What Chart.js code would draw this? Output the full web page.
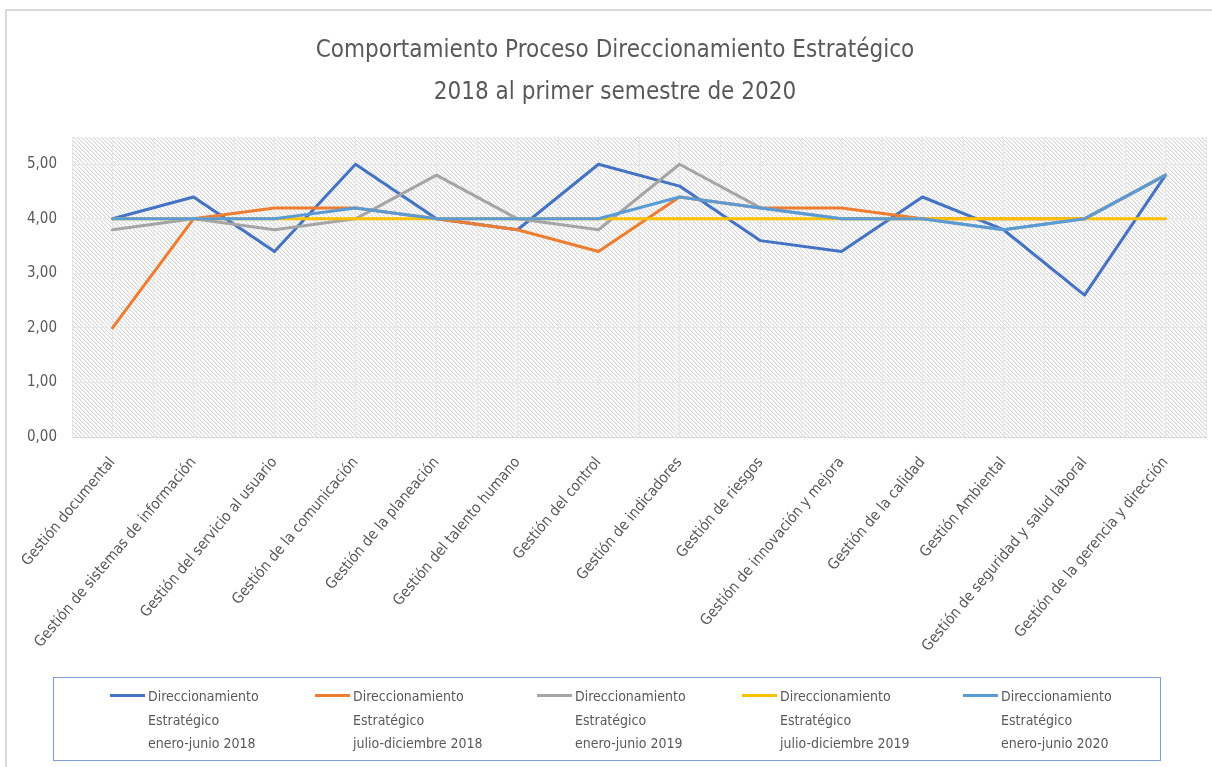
<!DOCTYPE html>
<html lang="es">
<head>
  <meta charset="UTF-8">
  <title>Comportamiento Proceso Direccionamiento Estratégico</title>
  <script src="https://cdn.jsdelivr.net/npm/chart.js"></script>
  <style>
    body { margin: 0; overflow: hidden; background: #fff; }
    #wrap { position: relative; width: 1212px; height: 767px; }
    #frame {
      position: absolute; left: 5px; top: 9px; width: 1300px; height: 900px;
      border: 2px solid #d9d9d9;
    }
    canvas { position: absolute; left: 0; top: 0; }
    #legend {
      position: absolute; left: 53px; top: 677px; width: 1108px; height: 84px;
      border: 1px solid #7f9fd9; box-sizing: border-box;
      font-family: 'Liberation Sans Narrow', 'DejaVu Sans Condensed', sans-serif;
      font-size: 14px; color: #595959;
    }
    .item { position: absolute; top: 7px; line-height: 23.5px; }
    .swatch { position: absolute; top: 16px; width: 35px; height: 3px; }
  </style>
</head>
<body>
  <div id="wrap">
    <div id="frame"></div>
    <canvas id="myChart" width="1212" height="767"></canvas>
    <div id="legend"></div>
  </div>

  <script>
    const categories = [
      'Gestión documental',
      'Gestión de sistemas de información',
      'Gestión del servicio al usuario',
      'Gestión de la comunicación',
      'Gestión de la planeación',
      'Gestión del talento humano',
      'Gestión del control',
      'Gestión de indicadores',
      'Gestión de riesgos',
      'Gestión de innovación y mejora',
      'Gestión de la calidad',
      'Gestión Ambiental',
      'Gestión de seguridad y salud laboral',
      'Gestión de la gerencia y dirección'
    ];

    const processName = 'Direccionamiento Estratégico';
    const periods = ['enero-junio 2018', 'julio-diciembre 2018', 'enero-junio 2019', 'julio-diciembre 2019', 'enero-junio 2020'];

    const ene2018 = [4.0, 4.4, 3.4, 5.0, 4.0, 3.8, 5.0, 4.6, 3.6, 3.4, 4.4, 3.8, 2.6, 4.8];
    const jul2018 = [2.0, 4.0, 4.2, 4.2, 4.0, 3.8, 3.4, 4.4, 4.2, 4.2, 4.0, 4.0, 4.0, 4.8];
    const ene2019 = [3.8, 4.0, 3.8, 4.0, 4.8, 4.0, 3.8, 5.0, 4.2, 4.0, 4.0, 3.8, 4.0, 4.8];
    const jul2019 = [4.0, 4.0, 4.0, 4.0, 4.0, 4.0, 4.0, 4.0, 4.0, 4.0, 4.0, 4.0, 4.0, 4.0];
    const ene2020 = [4.0, 4.0, 4.0, 4.2, 4.0, 4.0, 4.0, 4.4, 4.2, 4.0, 4.0, 3.8, 4.0, 4.8];

    const yTicks = [0, 1, 2, 3, 4, 5];

    const seriesData = [ene2018, jul2018, ene2019, jul2019, ene2020];
    const colors = ['#4472C4', '#ED7D31', '#A5A5A5', '#FFC000', '#5B9BD5'];
    const font = "'Liberation Sans Narrow', 'DejaVu Sans Condensed', sans-serif";
    const textColor = '#595959';

    // fondo rayado del área de trazado
    const tile = document.createElement('canvas');
    tile.width = 4; tile.height = 4;
    const tctx = tile.getContext('2d');
    tctx.fillStyle = '#ffffff';
    tctx.fillRect(0, 0, 4, 4);
    for (let i = 0; i < 4; i++) {
      tctx.fillStyle = '#d8d8d8';
      tctx.fillRect(i, i, 1, 1);
      tctx.fillStyle = '#eeeeee';
      tctx.fillRect((i + 1) % 4, i, 1, 1);
    }

    const hatch = {
      id: 'hatch',
      beforeDraw(chart) {
        const a = chart.chartArea;
        const c = chart.ctx;
        c.save();
        c.fillStyle = c.createPattern(tile, 'repeat');
        c.fillRect(a.left, a.top, a.right - a.left, a.bottom - a.top);
        c.restore();
      }
    };

    const ctx = document.getElementById('myChart').getContext('2d');
    const chart = new Chart(ctx, {
      type: 'line',
      data: {
        labels: categories,
        datasets: seriesData.map((d, i) => ({
          label: processName + ' ' + periods[i],
          data: d,
          borderColor: colors[i],
          backgroundColor: colors[i],
          borderWidth: 3,
          pointRadius: 0,
          tension: 0,
          borderJoinStyle: 'round',
          borderCapStyle: 'round',
          order: seriesData.length - i
        }))
      },
      options: {
        responsive: false,
        animation: false,
        layout: { padding: { left: 24, right: 6, top: 0, bottom: 0 } },
        plugins: {
          legend: { display: false },
          tooltip: { enabled: false },
          title: {
            display: true,
            text: ['Comportamiento Proceso Direccionamiento Estratégico', '2018 al primer semestre de 2020'],
            color: textColor,
            font: { family: font, size: 24, weight: 'normal', lineHeight: 1.75 },
            padding: { top: 30, bottom: 23 }
          }
        },
        scales: {
          x: {
            offset: true,
            grid: { offset: true, color: '#e6e6e6', drawTicks: false },
            border: { color: '#d9d9d9' },
            ticks: {
              color: textColor,
              font: { family: font, size: 15 },
              minRotation: 50,
              maxRotation: 50,
              autoSkip: false,
              padding: 17
            },
            afterFit(scale) { scale.height = 330; }
          },
          x2: {
            type: 'category',
            labels: categories,
            position: 'bottom',
            offset: true,
            grid: { offset: false, color: '#e6e6e6', drawTicks: false },
            border: { display: false },
            ticks: { display: false },
            afterFit(scale) { scale.height = 0; }
          },
          y: {
            min: 0,
            max: 5.5,
            grid: { color: '#e6e6e6', drawTicks: false },
            border: { display: false },
            afterBuildTicks(scale) { scale.ticks = yTicks.map(v => ({ value: v })); },
            afterFit(scale) { scale.width = 48; },
            ticks: {
              color: textColor,
              font: { family: font, size: 15 },
              padding: 15,
              callback: v => v.toFixed(2).replace('.', ',')
            }
          }
        }
      },
      plugins: [hatch]
    });

    // leyenda
    const legend = document.getElementById('legend');
    const itemLeft = [56, 261, 483, 688, 909];
    periods.forEach((p, i) => {
      const sw = document.createElement('div');
      sw.className = 'swatch';
      sw.style.left = itemLeft[i] + 'px';
      sw.style.background = colors[i];
      legend.appendChild(sw);
      const it = document.createElement('div');
      it.className = 'item';
      it.style.left = (itemLeft[i] + 38) + 'px';
      it.innerHTML = processName.replace(' ', '<br>') + '<br>' + p;
      legend.appendChild(it);
    });
  </script>
</body>
</html>
